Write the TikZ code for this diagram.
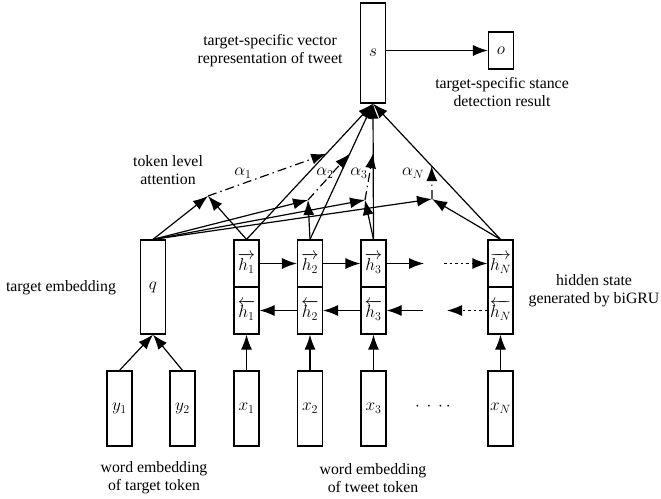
\documentclass[tikz,border=0pt]{standalone}
\usepackage[no-math]{fontspec}
\setmainfont{Liberation Serif}
\DeclareMathSizes{15.8}{17.28}{12}{10}
\usetikzlibrary{arrows.meta,positioning,calc}

\begin{document}
\begin{tikzpicture}[x=1pt, y=-1pt, >={Latex[length=15pt,width=11pt]}, line width=1.2pt,
  font=\fontsize{15.8}{18}\selectfont]
\tikzstyle{vec}=[draw, rectangle, inner sep=0pt, minimum width=25pt]
\tikzstyle{hid}=[vec, minimum height=47pt]
\tikzstyle{emb}=[vec, minimum height=75pt]
\tikzstyle{lbl}=[align=center, inner sep=0pt]
\tikzstyle{att}=[->, dash pattern=on 9pt off 4pt on 1.5pt off 4pt]
\tikzstyle{dotline}=[->, dash pattern=on 2.5pt off 3pt]
\useasboundingbox (0,0) rectangle (661,498);

% output part
\node[vec, minimum height=100pt] (s) at (373,53) {$s$};
\node[vec, minimum height=37pt]  (o) at (501,50.5) {$o$};
\draw[->] (s.east |- o.west) -- (o.west);

% target side
\node[vec, minimum height=94pt] (q) at (153,287) {$q$};
\node[emb] (y1) at (119.5,408.5) {$y_1$};
\node[emb] (y2) at (182.5,408.5) {$y_2$};
\draw[->] (y1.north) -- (q.south);
\draw[->] (y2.north) -- (q.south);

% tweet side, biGRU
\foreach \i/\x in {1/246.5, 2/310, 3/373.5, N/500.5} {
  \node[hid] (hf\i) at (\x,263.5) {$\overrightarrow{h_\i}$};
  \node[hid] (hb\i) at (\x,310.5) {$\overleftarrow{h_\i}$};
  \node[emb] (x\i)  at (\x,408.5) {$x_\i$};
  \draw[->] (x\i) -- (hb\i);
}
\node (dots) at (433,407) {$\cdot\,\cdot\,\cdot\,\cdot$};

\coordinate (fe) at (424,263.5);
\coordinate (fs) at (444,263.5);
\coordinate (bs) at (423,310.5);
\coordinate (be) at (447,310.5);
\draw[->] (hf1) -- (hf2);
\draw[->] (hf2) -- (hf3);
\draw[->] (hf3) -- (fe);
\draw[dotline] (fs) -- (hfN);
\draw[->] (hb2) -- (hb1);
\draw[->] (hb3) -- (hb2);
\draw[->] (bs) -- (hb3);
\draw[dotline] (hbN) -- (be);

% attention
\coordinate (a1) at (208,196);
\coordinate (a2) at (308,200);
\coordinate (a3) at (365,200);
\coordinate (aN) at (432,199);
\foreach \i in {1,2,3,N} {
  \draw[->] (hf\i.north) -- (s.south);
  \draw[->] (hf\i.north) -- (a\i);
  \draw[->] (q.north) -- (a\i);
}
\draw[att] (a1) -- ($(hf1.north)!0.63!(s.south)$);
\draw[att] (a2) -- ($(hf2.north)!0.63!(s.south)$);
\draw[att] (a3) -- ($(hf3.north)!0.635!(s.south)$);
\draw[att] (aN) -- ($(hfN.north)!0.54!(s.south)$);
\node (al1) at (243,173) {$\alpha_1$};
\node (al2) at (325,173) {$\alpha_2$};
\node (al3) at (359,173) {$\alpha_3$};
\node (alN) at (413,173) {$\alpha_N$};

% texts
\node[lbl] (tvec) at (270,51)  {target-specific vector\\representation of tweet};
\node[lbl] (tres) at (502,92)  {target-specific stance\\detection result};
\node[lbl] (tatt) at (168,170) {token level\\attention};
\node[lbl] (temb) at (61,288)  {target embedding};
\node[lbl] (thid) at (594,291) {hidden state\\generated by biGRU};
\node[lbl] (twq)  at (154,478) {word embedding\\of target token};
\node[lbl] (twx)  at (373,478) {word embedding\\of tweet token};
\end{tikzpicture}
\end{document}
